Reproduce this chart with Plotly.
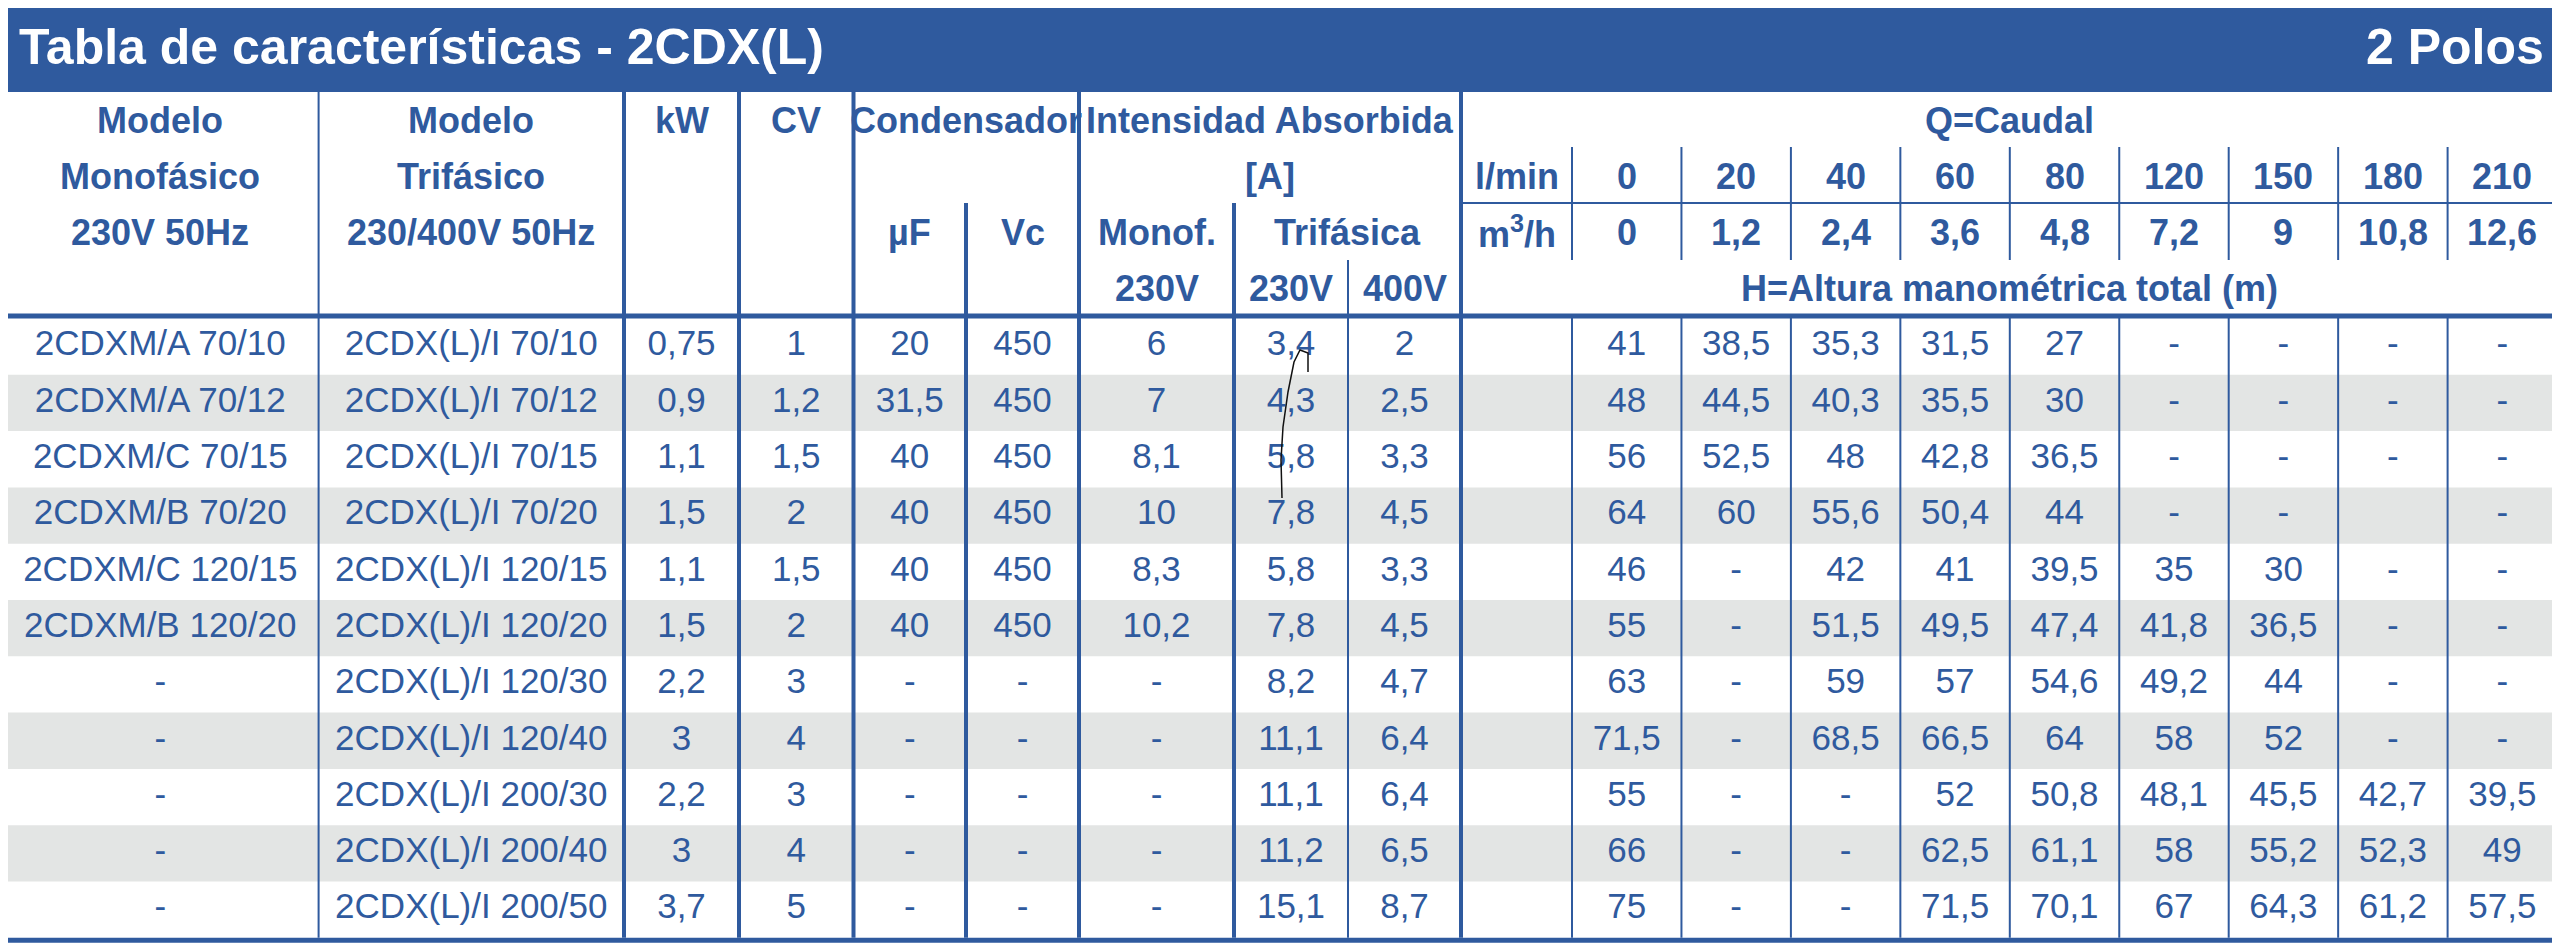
"""Characteristics table for the 2CDX(L) pump range, drawn with plotly shapes and text."""

import plotly.graph_objects as go

# ---- table data ----------------------------------------------------------
title_left = "Tabla de características - 2CDX(L)"
title_right = "2 Polos"

mono_models = ["2CDXM/A 70/10", "2CDXM/A 70/12", "2CDXM/C 70/15",
               "2CDXM/B 70/20", "2CDXM/C 120/15", "2CDXM/B 120/20",
               "-", "-", "-", "-", "-"]
tri_models = ["2CDX(L)/I 70/10", "2CDX(L)/I 70/12", "2CDX(L)/I 70/15",
              "2CDX(L)/I 70/20", "2CDX(L)/I 120/15", "2CDX(L)/I 120/20",
              "2CDX(L)/I 120/30", "2CDX(L)/I 120/40", "2CDX(L)/I 200/30",
              "2CDX(L)/I 200/40", "2CDX(L)/I 200/50"]
power_kw = ["0,75", "0,9", "1,1", "1,5", "1,1", "1,5", "2,2", "3", "2,2", "3", "3,7"]
power_cv = ["1", "1,2", "1,5", "2", "1,5", "2", "3", "4", "3", "4", "5"]
cap_uf = ["20", "31,5", "40", "40", "40", "40", "-", "-", "-", "-", "-"]
cap_vc = ["450", "450", "450", "450", "450", "450", "-", "-", "-", "-", "-"]
amp_mono_230 = ["6", "7", "8,1", "10", "8,3", "10,2", "-", "-", "-", "-", "-"]
amp_tri_230 = ["3,4", "4,3", "5,8", "7,8", "5,8", "7,8", "8,2", "11,1", "11,1", "11,2", "15,1"]
amp_tri_400 = ["2", "2,5", "3,3", "4,5", "3,3", "4,5", "4,7", "6,4", "6,4", "6,5", "8,7"]

flow_lmin = ["0", "20", "40", "60", "80", "120", "150", "180", "210"]
flow_m3h = ["0", "1,2", "2,4", "3,6", "4,8", "7,2", "9", "10,8", "12,6"]

# H = total head (m), one row per model, one value per flow point
head_m = [
    ["41", "38,5", "35,3", "31,5", "27", "-", "-", "-", "-"],
    ["48", "44,5", "40,3", "35,5", "30", "-", "-", "-", "-"],
    ["56", "52,5", "48", "42,8", "36,5", "-", "-", "-", "-"],
    ["64", "60", "55,6", "50,4", "44", "-", "-", "", "-"],
    ["46", "-", "42", "41", "39,5", "35", "30", "-", "-"],
    ["55", "-", "51,5", "49,5", "47,4", "41,8", "36,5", "-", "-"],
    ["63", "-", "59", "57", "54,6", "49,2", "44", "-", "-"],
    ["71,5", "-", "68,5", "66,5", "64", "58", "52", "-", "-"],
    ["55", "-", "-", "52", "50,8", "48,1", "45,5", "42,7", "39,5"],
    ["66", "-", "-", "62,5", "61,1", "58", "55,2", "52,3", "49"],
    ["75", "-", "-", "71,5", "70,1", "67", "64,3", "61,2", "57,5"],
]

# ---- geometry / style ----------------------------------------------------
W, H = 2560, 949
OFF = 8  # the page body margin; axes are shifted so data units == page pixels
BLUE = "#2f5a9e"
GRAY = "#e3e5e4"
FONT = "Liberation Sans, Arial, Helvetica, sans-serif"
DATA_SIZE = 35
HEAD_SIZE = 36
TITLE_SIZE = 50

# column edges in page pixels
x_edges = [2, 318.6, 624, 739, 853.5, 966, 1079, 1234, 1348, 1461, 1572]
q_step = 109.45
q_edges = [x_edges[-1] + q_step * k for k in range(len(flow_lmin) + 1)]
RIGHT = q_edges[-1]

TITLE_BOTTOM = 92
HEAD_BOTTOM = 316
ROW_TOP = 318.5
ROW_H = 56.3
head_y = [120, 176, 232, 288]

n_rows = len(tri_models)
row_mid = [ROW_TOP + ROW_H * (i + 0.5) for i in range(n_rows)]
table_bottom = ROW_TOP + ROW_H * n_rows


def mid(a, b):
    return (a + b) / 2


def vline(x, y0, y1, width):
    return dict(type="line", x0=x, x1=x, y0=y0, y1=y1,
                line=dict(color=BLUE, width=width), layer="above")


def hline(y, x0, x1, width):
    return dict(type="line", x0=x0, x1=x1, y0=y, y1=y,
                line=dict(color=BLUE, width=width), layer="above")


fig = go.Figure()

# data columns: one text trace per column
data_cols = [mono_models, tri_models, power_kw, power_cv, cap_uf, cap_vc,
             amp_mono_230, amp_tri_230, amp_tri_400]
for k, col in enumerate(data_cols):
    fig.add_trace(go.Scatter(
        x=[mid(x_edges[k], x_edges[k + 1])] * n_rows, y=row_mid, text=col,
        mode="text", textposition="middle center",
        textfont=dict(family=FONT, size=DATA_SIZE, color=BLUE),
        hoverinfo="skip", showlegend=False))

for j in range(len(flow_lmin)):
    fig.add_trace(go.Scatter(
        x=[mid(q_edges[j], q_edges[j + 1])] * n_rows, y=row_mid,
        text=[row[j] for row in head_m],
        mode="text", textposition="middle center",
        textfont=dict(family=FONT, size=DATA_SIZE, color=BLUE),
        hoverinfo="skip", showlegend=False))

# ---- shapes --------------------------------------------------------------
shapes = [dict(type="rect", x0=0, x1=RIGHT + 2, y0=0, y1=TITLE_BOTTOM,
               fillcolor=BLUE, line=dict(width=0), layer="below")]

# zebra stripes
for i in range(1, n_rows, 2):
    shapes.append(dict(type="rect", x0=2, x1=RIGHT,
                       y0=ROW_TOP + ROW_H * i, y1=ROW_TOP + ROW_H * (i + 1),
                       fillcolor=GRAY, line=dict(width=0), layer="below"))

# outer border + header separator
shapes.append(vline(1.5, TITLE_BOTTOM, table_bottom + 4, 3))
shapes.append(vline(RIGHT, 0, table_bottom + 4, 4))
shapes.append(hline(HEAD_BOTTOM, 0, RIGHT + 2, 5))
shapes.append(hline(table_bottom + 2.5, 0, RIGHT + 2, 5))

# full height column separators
thick = {624, 739, 853.5, 1079, 1461}
for x in [318.6, 624, 739, 853.5, 1079, 1461]:
    shapes.append(vline(x, TITLE_BOTTOM, table_bottom, 4 if x in thick else 2))

# separators that start lower in the header
shapes.append(vline(966, 203, table_bottom, 4))
shapes.append(vline(1234, 203, table_bottom, 4))
shapes.append(vline(1348, 260, table_bottom, 2))

# flow block
shapes.append(hline(203, 1461, RIGHT, 2))
for x in q_edges[:-1]:
    shapes.append(vline(x, 147, 260, 2))
    shapes.append(vline(x, HEAD_BOTTOM, table_bottom, 2))

# pen stroke over the 230V column
shapes.append(dict(type="path",
                   path="M 1308 372 L 1308 353 L 1300 350 L 1294 362 "
                        "L 1288 392 L 1283 427 L 1281 460 L 1282 498",
                   line=dict(color="#111111", width=1.5), layer="above"))

# ---- header texts --------------------------------------------------------
annotations = []


def label(x, y, text, size=HEAD_SIZE, color=BLUE, anchor="center"):
    annotations.append(dict(x=x, y=y, text=text, showarrow=False,
                            xanchor=anchor, yanchor="middle",
                            font=dict(family=FONT, size=size, color=color,
                                      weight="bold")))


label(17, 47, title_left, size=TITLE_SIZE, color="white", anchor="left")
label(2546, 47, title_right, size=TITLE_SIZE, color="white", anchor="right")

for text, y in zip(["Modelo", "Monofásico", "230V 50Hz"], head_y):
    label(mid(x_edges[0], x_edges[1]), y, text)
for text, y in zip(["Modelo", "Trifásico", "230/400V 50Hz"], head_y):
    label(mid(x_edges[1], x_edges[2]), y, text)
label(mid(x_edges[2], x_edges[3]), head_y[0], "kW")
label(mid(x_edges[3], x_edges[4]), head_y[0], "CV")
label(mid(x_edges[4], x_edges[6]), head_y[0], "Condensador")
label(mid(x_edges[4], x_edges[5]), head_y[2], "µF")
label(mid(x_edges[5], x_edges[6]), head_y[2], "Vc")
label(mid(x_edges[6], x_edges[9]), head_y[0], "Intensidad Absorbida")
label(mid(x_edges[6], x_edges[9]), head_y[1], "[A]")
label(mid(x_edges[6], x_edges[7]), head_y[2], "Monof.")
label(mid(x_edges[6], x_edges[7]), head_y[3], "230V")
label(mid(x_edges[7], x_edges[9]), head_y[2], "Trifásica")
label(mid(x_edges[7], x_edges[8]), head_y[3], "230V")
label(mid(x_edges[8], x_edges[9]), head_y[3], "400V")

label(mid(x_edges[9], RIGHT), head_y[0], "Q=Caudal")
label(mid(x_edges[9], x_edges[10]), head_y[1], "l/min")
label(mid(x_edges[9], x_edges[10]), head_y[2], "m<sup>3</sup>/h")
for j, (a, b) in enumerate(zip(flow_lmin, flow_m3h)):
    cx = mid(q_edges[j], q_edges[j + 1])
    label(cx, head_y[1], a)
    label(cx, head_y[2], b)
label(mid(x_edges[9], RIGHT), head_y[3], "H=Altura manométrica total (m)")

fig.update_layout(
    width=W - OFF, height=H - OFF,
    margin=dict(l=0, r=0, t=0, b=0, pad=0),
    paper_bgcolor="white", plot_bgcolor="white",
    xaxis=dict(range=[OFF, W], visible=False, fixedrange=True),
    yaxis=dict(range=[H, OFF], visible=False, fixedrange=True),
    shapes=shapes, annotations=annotations,
)

fig.write_html("out.html")
